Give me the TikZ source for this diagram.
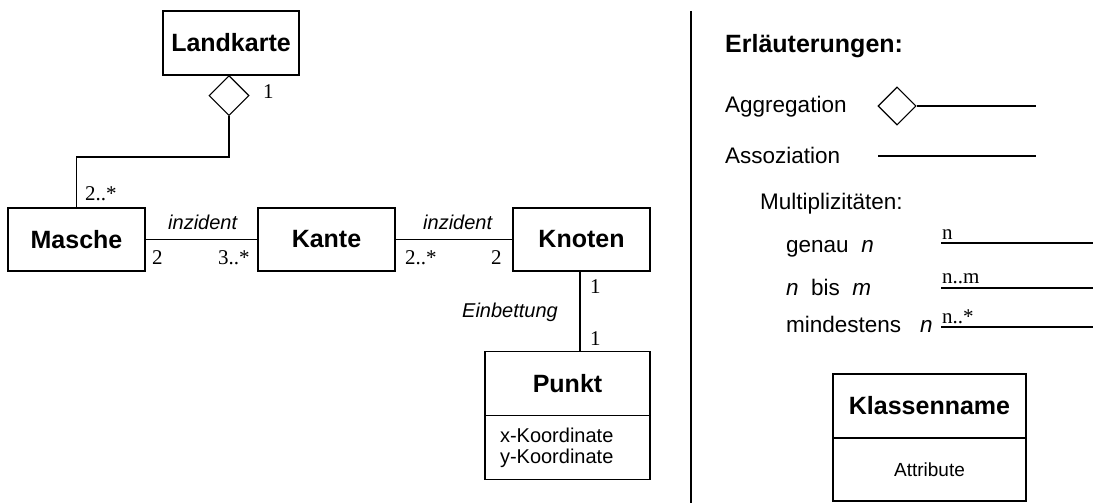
\documentclass[tikz,border=0pt]{standalone}
\usepackage{fontspec}
\setmainfont{Liberation Sans}
\newfontfamily\serifnum{Liberation Serif}
\usetikzlibrary{shapes.geometric}
\begin{document}
\begin{tikzpicture}[x=1pt,y=-1pt,
  classbox/.style={draw, line width=1.1pt, inner sep=0pt,
    font=\fontsize{25}{29}\selectfont\bfseries},
  attrbox/.style={draw, line width=1.1pt, inner sep=0pt,
    font=\fontsize{20}{21}\selectfont},
  mult/.style={inner sep=0pt, anchor=base west,
    font=\serifnum\fontsize{21}{24}\selectfont},
  role/.style={inner sep=0pt, anchor=base west,
    font=\fontsize{20}{24}\selectfont\itshape},
  legend/.style={inner sep=0pt, anchor=base west,
    font=\fontsize{22.5}{26}\selectfont},
  conn/.style={line width=1.1pt},
  aggr/.style={draw, diamond, shape aspect=1, inner sep=0pt,
    line width=1.1pt, fill=white}
]
\useasboundingbox (0,0) rectangle (1093,503);

% ---------- classes ----------
\node[classbox, minimum width=136pt, minimum height=64pt] (landkarte) at (231,43) {Landkarte};
\node[classbox, minimum width=137pt, minimum height=63pt] (masche) at (76.5,239.5) {Masche};
\node[classbox, minimum width=137pt, minimum height=63pt] (kante) at (326.5,239.5) {Kante};
\node[classbox, minimum width=137pt, minimum height=63pt] (knoten) at (581.5,239.5) {Knoten};
\node[classbox, minimum width=165pt, minimum height=64pt] (punkt) at (567.5,383.5) {Punkt};
\node[attrbox, minimum width=165pt, minimum height=64pt, text width=135pt, align=left]
  (punktattr) at (567.5,447.5) {x-Koordinate\\y-Koordinate};

% ---------- aggregation Landkarte <>-- Masche ----------
\node[aggr, minimum width=40pt, minimum height=40pt, anchor=north] (dia) at (229,75) {};
\coordinate (bend) at (229,157);
\draw[conn] (dia.south) -- (bend) -| (masche.north);
\node[mult] (m-land) at (263,99) {1};
\node[mult] (m-masche) at (85,200) {2..*};

% ---------- associations ----------
\draw[conn] (masche) -- (kante);
\node[role] (inz1) at (168,229) {inzident};
\node[mult] (m-mk1) at (152,264) {2};
\node[mult] (m-mk2) at (218,264) {3..*};

\draw[conn] (kante) -- (knoten);
\node[role] (inz2) at (423,229) {inzident};
\node[mult] (m-kk1) at (405,264) {2..*};
\node[mult] (m-kk2) at (491,264) {2};

\coordinate (kp) at (580,300);
\draw[conn] (knoten.south -| kp) -- (punkt.north -| kp);
\node[mult] (m-kp1) at (590,293) {1};
\node[mult] (m-kp2) at (590,345) {1};
\node[role, anchor=base] (einb) at (510,317) {Einbettung};

% ---------- separator ----------
\coordinate (sepa) at (691,11);
\coordinate (sepb) at (691,503);
\draw[conn] (sepa) -- (sepb);

% ---------- legend ----------
\node[legend, font=\fontsize{25}{28}\selectfont\bfseries] (title) at (725,53) {Erläuterungen:};

\node[legend] (l-aggr) at (725,113) {Aggregation};
\node[aggr, minimum width=38pt, minimum height=38pt] (ldia) at (897,106) {};
\coordinate (lagg) at (1036,106);
\draw[conn] (ldia.east) -- (lagg);

\node[legend] (l-ass) at (725,163) {Assoziation};
\coordinate (lass1) at (878,156);
\coordinate (lass2) at (1036,156);
\draw[conn] (lass1) -- (lass2);

\node[legend] (l-mult) at (760,209) {Multiplizitäten:};

\node[legend] (l-genau) at (786,252) {genau\ \ \textit{n}};
\coordinate (g1) at (941,243);
\coordinate (g2) at (1093,243);
\draw[conn] (g1) -- (g2);
\node[mult] (lab-n) at (942,239) {n};

\node[legend] (l-bis) at (786,295) {\textit{n}\ \ bis\ \ \textit{m}};
\coordinate (b1) at (941,288);
\coordinate (b2) at (1093,288);
\draw[conn] (b1) -- (b2);
\node[mult] (lab-nm) at (942,283) {n..m};

\node[legend] (l-min) at (786,332) {mindestens\ \ \ \textit{n}};
\coordinate (n1) at (941,327);
\coordinate (n2) at (1093,327);
\draw[conn] (n1) -- (n2);
\node[mult] (lab-ns) at (942,323) {n..*};

% ---------- legend class ----------
\node[classbox, minimum width=193pt, minimum height=64pt] (kname) at (929.5,406) {Klassenname};
\node[attrbox, minimum width=193pt, minimum height=63pt,
  font=\fontsize{19}{22}\selectfont] (kattr) at (929.5,469.5) {Attribute};
\end{tikzpicture}
\end{document}
